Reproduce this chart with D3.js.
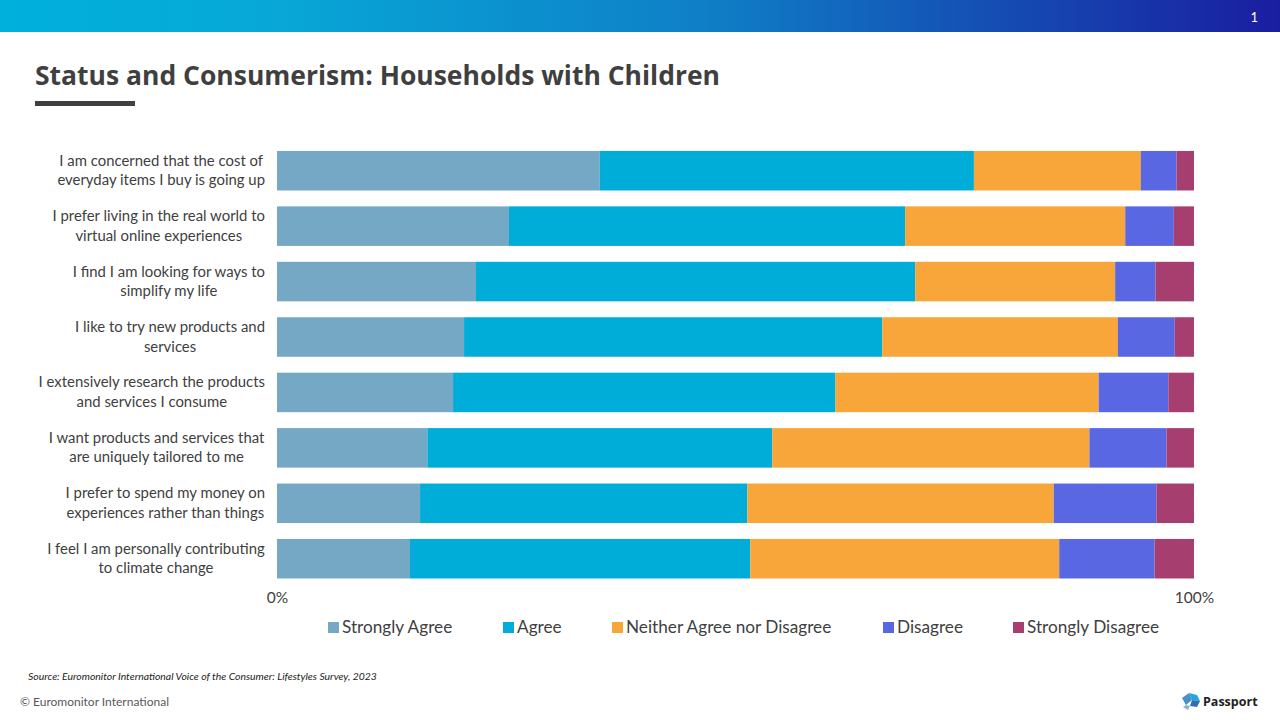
<!DOCTYPE html>
<html>
<head>
<meta charset="utf-8">
<script src="https://cdn.jsdelivr.net/npm/d3@7"></script>
<style>
  html, body { margin: 0; padding: 0; background: #fff; }
  svg { display: block; }
</style>
</head>
<body>
<svg id="chart" width="1280" height="720"></svg>
<script>
const categories = [
  ["I am concerned that the cost of", "everyday items I buy is going up"],
  ["I prefer living in the real world to", "virtual online experiences"],
  ["I find I am looking for ways to", "simplify my life"],
  ["I like to try new products and", "services"],
  ["I extensively research the products", "and services I consume"],
  ["I want products and services that", "are uniquely tailored to me"],
  ["I prefer to spend my money on", "experiences rather than things"],
  ["I feel I am personally contributing", "to climate change"]
];
const seriesNames = ["Strongly Agree", "Agree", "Neither Agree nor Disagree", "Disagree", "Strongly Disagree"];
const stronglyAgree = [35.2, 25.3, 21.7, 20.4, 19.2, 16.4, 15.6, 14.5];
const agree         = [40.8, 43.2, 47.9, 45.6, 41.7, 37.6, 35.7, 37.1];
const neither       = [18.2, 24.0, 21.8, 25.7, 28.7, 34.6, 33.4, 33.7];
const disagree      = [ 3.9,  5.3,  4.4,  6.2,  7.6,  8.4, 11.2, 10.4];
const stronglyDis   = [ 1.9,  2.2,  4.3,  2.1,  2.8,  3.1,  4.1,  4.4];
const tickValues = [0, 100];
const tickLabels = ["0%", "100%"];
const colors = ["#74A8C5", "#00ADD9", "#F8A53A", "#5A67E3", "#A63F6F"];

const svg = d3.select("#chart");
const W = 1280;

// Header gradient
const defs = svg.append("defs");
const grad = defs.append("linearGradient").attr("id", "hdr").attr("x1", "0").attr("x2", "1").attr("y1", "0").attr("y2", "0");
grad.append("stop").attr("offset", "0").attr("stop-color", "#00B0DC");
grad.append("stop").attr("offset", "0.2").attr("stop-color", "#07A9D8");
grad.append("stop").attr("offset", "0.55").attr("stop-color", "#0F7FC7");
grad.append("stop").attr("offset", "1").attr("stop-color", "#1A1DA0");
svg.append("rect").attr("x", 0).attr("y", 0).attr("width", W).attr("height", 32).attr("fill", "url(#hdr)");
svg.append("text").attr("x", 1258).attr("y", 22).attr("text-anchor", "end")
  .attr("fill", "#fff").attr("font-family", "Lato, sans-serif").attr("font-size", 13).text("1");

// Title
svg.append("text").attr("x", 35).attr("y", 85)
  .attr("font-family", "'Open Sans', sans-serif").attr("font-weight", 700)
  .attr("font-size", 26).attr("fill", "#3F3F3F")
  .attr("textLength", 685).attr("lengthAdjust", "spacingAndGlyphs")
  .text("Status and Consumerism: Households with Children");
svg.append("rect").attr("x", 35).attr("y", 101).attr("width", 100).attr("height", 5).attr("fill", "#404040");

// Chart
const x = d3.scaleLinear().domain([0, 100]).range([277, 1194]);
const y = d3.scaleBand().domain(d3.range(categories.length))
  .range([143, 143 + 8 * 55.43]).paddingInner(0.287).paddingOuter(0.1435);

const seriesArrays = [stronglyAgree, agree, neither, disagree, stronglyDis];
const rows = categories.map((c, i) => {
  const o = { idx: i };
  seriesNames.forEach((s, k) => o[s] = seriesArrays[k][i]);
  return o;
});
const stack = d3.stack().keys(seriesNames)(rows);

const g = svg.append("g");
g.selectAll("g.series").data(stack).join("g").attr("class", "series")
  .attr("fill", (d, k) => colors[k])
  .selectAll("rect").data(d => d).join("rect")
  .attr("x", d => x(d[0]))
  .attr("width", d => x(Math.min(d[1], 100)) - x(d[0]))
  .attr("y", d => y(d.data.idx))
  .attr("height", y.bandwidth());

// Category labels
const labG = svg.append("g").attr("font-family", "Lato, sans-serif").attr("font-size", 14.9).attr("fill", "#404040");
categories.forEach((lines, i) => {
  const cy = y(i) + y.bandwidth() / 2;
  const t = labG.append("text").attr("text-anchor", "middle");
  lines.forEach((ln, j) => {
    t.append("tspan").attr("x", 160).attr("y", cy - 5 + j * 19.5).text(ln);
  });
});
labG.selectAll("text").each(function() {
  const bb = this.getBBox();
  const shift = 265 - (bb.x + bb.width);
  d3.select(this).attr("transform", `translate(${shift},0)`);
});

// X axis
const axis = d3.axisBottom(x).tickValues(tickValues).tickFormat((d, i) => tickLabels[i]).tickSize(0).tickPadding(0);
const ax = svg.append("g").attr("transform", "translate(0,590)").call(axis);
ax.select(".domain").remove();
ax.selectAll("text").attr("font-family", "Lato, sans-serif").attr("font-size", 15.5).attr("fill", "#404040").attr("dy", "0.85em");

// Legend
const legendX = [328, 503, 612, 883, 1013];
const lg = svg.append("g").attr("font-family", "Lato, sans-serif").attr("font-size", 17.2).attr("fill", "#404040");
seriesNames.forEach((s, k) => {
  lg.append("rect").attr("x", legendX[k]).attr("y", 622).attr("width", 11).attr("height", 11).attr("fill", colors[k]);
  lg.append("text").attr("x", legendX[k] + 14).attr("y", 633).text(s);
});

// Source and footer
svg.append("text").attr("x", 28).attr("y", 680).attr("font-family", "Lato, sans-serif")
  .attr("font-style", "italic").attr("font-size", 10.4).attr("fill", "#222")
  .text("Source: Euromonitor International Voice of the Consumer: Lifestyles Survey, 2023");
svg.append("text").attr("x", 20).attr("y", 706).attr("font-family", "Lato, sans-serif")
  .attr("font-size", 12).attr("fill", "#595959").text("© Euromonitor International");

// Passport logo
const logo = svg.append("g").attr("transform", "translate(1180,692)");
logo.append("path").attr("d", "M2,6 L9,1 L12,8 L6,13 Z").attr("fill", "#4A90C8");
logo.append("path").attr("d", "M9,1 L17,3 L20,9 L12,8 Z").attr("fill", "#1FA8DC");
logo.append("path").attr("d", "M12,8 L20,9 L17,15 L10,14 Z").attr("fill", "#2D6FB0");
logo.append("path").attr("d", "M6,13 L10,14 L8,18 L3,15 Z").attr("fill", "#7FB7DD");
svg.append("text").attr("x", 1203).attr("y", 706).attr("font-family", "'Open Sans', sans-serif")
  .attr("font-weight", 700).attr("font-size", 12.5).attr("fill", "#222").text("Passport");
</script>
</body>
</html>
